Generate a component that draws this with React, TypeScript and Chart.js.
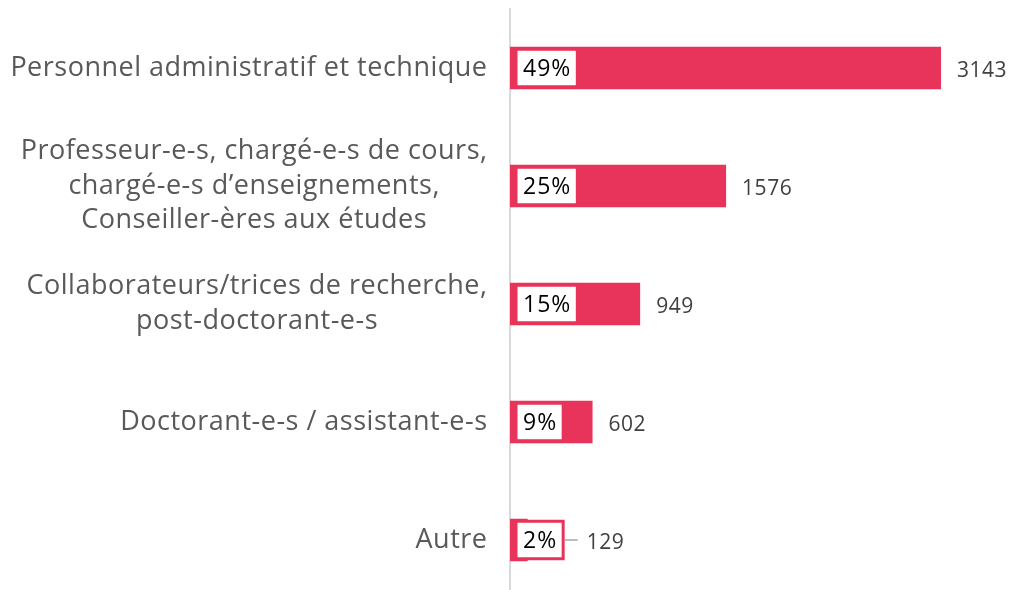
import React, { useEffect, useRef } from "react";
import { Chart, registerables } from "chart.js";

Chart.register(...registerables);

const categories: string[][] = [
  ["Personnel administratif et technique"],
  ["Professeur-e-s, chargé-e-s de cours,", "chargé-e-s d’enseignements,", "Conseiller-ères aux études"],
  ["Collaborateurs/trices de recherche,", "post-doctorant-e-s"],
  ["Doctorant-e-s / assistant-e-s"],
  ["Autre"],
];
const counts: number[] = [3143, 1576, 949, 602, 129];
const percents: string[] = ["49%", "25%", "15%", "9%", "2%"];

const BAR_COLOR = "#E8345A";
const FONT = "'Open Sans', 'Noto Sans', sans-serif";

const labelPlugin = {
  id: "customLabels",
  afterDatasetsDraw(chart: any) {
    const ctx = chart.ctx as any;
    const meta = chart.getDatasetMeta(0);
    const yScale = chart.scales.y;
    const area = chart.chartArea;
    ctx.save();
    // category labels
    ctx.font = `27px ${FONT}`;
    ctx.letterSpacing = "0.5px";
    ctx.fillStyle = "#595959";
    ctx.textBaseline = "middle";
    ctx.textAlign = "left";
    const lineH = 34.5;
    categories.forEach((lines, i) => {
      const cy = yScale.getPixelForValue(i);
      const widths = lines.map((l) => ctx.measureText(l).width - 0.5);
      const blockW = Math.max(...widths);
      const right = area.left - 23;
      const cx = right - blockW / 2;
      const startY = cy - ((lines.length - 1) * lineH) / 2;
      lines.forEach((l, j) => ctx.fillText(l, cx - widths[j] / 2, startY + j * lineH));
    });

    // percent boxes and value labels
    meta.data.forEach((bar: any, i: number) => {
      const base = bar.base;
      const end = bar.x;
      const cy = bar.y;
      const h = bar.height;
      ctx.font = `23px ${FONT}`;
      ctx.letterSpacing = "1px";
      const tw = ctx.measureText(percents[i]).width - 1;
      const padX = 7;
      const bx = base + 6;
      const bw = tw + padX * 2;
      const bh = h - 5;
      const by = cy - bh / 2;
      ctx.fillStyle = "#ffffff";
      ctx.fillRect(bx, by, bw, bh);
      ctx.strokeStyle = BAR_COLOR;
      ctx.lineWidth = 3;
      ctx.strokeRect(bx, by, bw, bh);
      ctx.fillStyle = "#000000";
      ctx.textAlign = "left";
      ctx.textBaseline = "middle";
      ctx.fillText(percents[i], bx + padX, cy + 1);

      const boxRight = bx + bw + 1.5;
      ctx.font = `21px ${FONT}`;
      ctx.letterSpacing = "0.5px";
      ctx.fillStyle = "#404040";
      let vx = end + 16;
      if (boxRight + 8 > end) {
        vx = boxRight + 22;
        ctx.strokeStyle = "#A6A6A6";
        ctx.lineWidth = 1.5;
        ctx.beginPath();
        ctx.moveTo(boxRight, cy);
        ctx.lineTo(boxRight + 13, cy);
        ctx.stroke();
      }
      ctx.fillText(String(counts[i]), vx, cy + 3);
    });
    ctx.restore();
  },
};

export default function App() {
  const canvasRef = useRef<HTMLCanvasElement | null>(null);
  useEffect(() => {
    if (!canvasRef.current) return;
    const chart = new Chart(canvasRef.current, {
      type: "bar",
      data: {
        labels: categories.map((c) => c.join(" ")),
        datasets: [
          {
            data: counts,
            backgroundColor: BAR_COLOR,
            borderWidth: 0,
            barPercentage: 0.36,
            categoryPercentage: 1,
          },
        ],
      },
      options: {
        indexAxis: "y",
        animation: false,
        responsive: false,
        maintainAspectRatio: false,
        layout: { padding: { top: 9, bottom: 1, right: 70, left: 0 } },
        plugins: { legend: { display: false }, tooltip: { enabled: false } },
        scales: {
          x: { display: false, min: 0, max: Math.max(...counts) },
          y: {
            grid: { display: false, drawTicks: false },
            ticks: { display: false },
            border: { display: true, color: "#D9D9D9", width: 2 },
            afterFit: (s: any) => {
              s.width = 510;
            },
          },
        },
      },
      plugins: [labelPlugin],
    });
    return () => chart.destroy();
  }, []);
  return (
    <div style={{ position: "absolute", left: 0, top: 0, width: 1011, height: 590, overflow: "hidden", background: "#fff" }}>
      <canvas ref={canvasRef} width={1011} height={600} style={{ display: "block" }} />
    </div>
  );
}
